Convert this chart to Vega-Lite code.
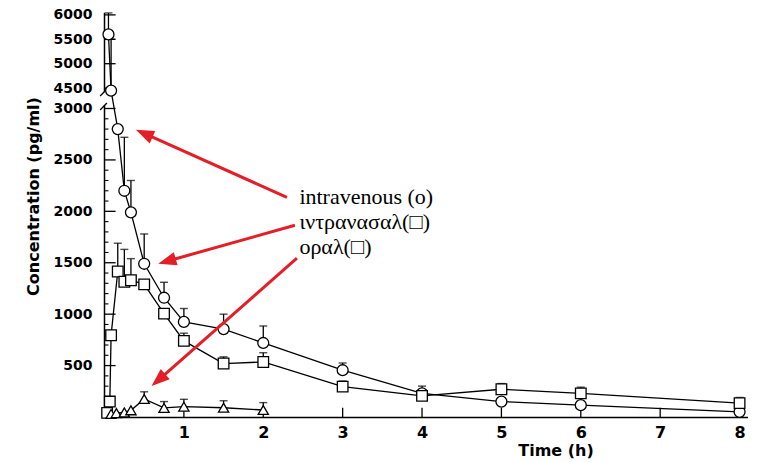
{
  "$schema": "https://vega.github.io/schema/vega-lite/v6.json",
  "width": 643,
  "height": 407,
  "autosize": {"type": "none"},
  "padding": {"left": 104.5, "top": 10, "right": 10.5, "bottom": 45},
  "background": "white",
  "config": {
    "view": {"stroke": null},
    "axis": {
      "grid": false,
      "zindex": 1,
      "ticks": false,
      "domainColor": "black",
      "domainWidth": 1.5,
      "labelColor": "black",
      "titleColor": "black",
      "labelFont": "DejaVu Sans",
      "titleFont": "DejaVu Sans",
      "labelFontWeight": "bold",
      "titleFontWeight": "bold",
      "labelOverlap": false,
      "labelFlush": false,
      "labelBound": false
    },
    "axisX": {"labelPadding": 7},
    "axisY": {"labelPadding": 12.5}
  },
  "datasets": {
    "pk": [
      {"route": "iv", "t": 0.05, "c": 5600, "hi": 6040},
      {"route": "iv", "t": 0.083, "c": 4450, "hi": 5500},
      {"route": "iv", "t": 0.167, "c": 2800},
      {"route": "iv", "t": 0.25, "c": 2200, "hi": 2720},
      {"route": "iv", "t": 0.333, "c": 1990, "hi": 2300},
      {"route": "iv", "t": 0.5, "c": 1490, "hi": 1780},
      {"route": "iv", "t": 0.75, "c": 1160, "hi": 1310},
      {"route": "iv", "t": 1, "c": 925, "hi": 1055},
      {"route": "iv", "t": 1.5, "c": 855, "hi": 1000},
      {"route": "iv", "t": 2, "c": 720, "hi": 885},
      {"route": "iv", "t": 3, "c": 455, "hi": 525},
      {"route": "iv", "t": 4, "c": 230, "hi": 300},
      {"route": "iv", "t": 5, "c": 150},
      {"route": "iv", "t": 6, "c": 115},
      {"route": "iv", "t": 8, "c": 50},
      {"route": "in", "t": 0.033, "c": 40},
      {"route": "in", "t": 0.067, "c": 150},
      {"route": "in", "t": 0.083, "c": 795},
      {"route": "in", "t": 0.167, "c": 1415, "hi": 1690},
      {"route": "in", "t": 0.25, "c": 1315, "hi": 1630},
      {"route": "in", "t": 0.333, "c": 1330, "hi": 1540},
      {"route": "in", "t": 0.5, "c": 1290},
      {"route": "in", "t": 0.75, "c": 1005},
      {"route": "in", "t": 1, "c": 740, "hi": 815},
      {"route": "in", "t": 1.5, "c": 520, "hi": 585},
      {"route": "in", "t": 2, "c": 535, "hi": 625},
      {"route": "in", "t": 3, "c": 295, "hi": 350},
      {"route": "in", "t": 4, "c": 205},
      {"route": "in", "t": 5, "c": 270, "hi": 325},
      {"route": "in", "t": 6, "c": 230, "hi": 290},
      {"route": "in", "t": 8, "c": 135, "hi": 190},
      {"route": "oral", "t": 0.083, "c": 30},
      {"route": "oral", "t": 0.15, "c": 38},
      {"route": "oral", "t": 0.25, "c": 45},
      {"route": "oral", "t": 0.333, "c": 65},
      {"route": "oral", "t": 0.5, "c": 175, "hi": 245},
      {"route": "oral", "t": 0.75, "c": 88, "hi": 150},
      {"route": "oral", "t": 1, "c": 100, "hi": 172},
      {"route": "oral", "t": 1.5, "c": 90, "hi": 158},
      {"route": "oral", "t": 2, "c": 68, "hi": 140}
    ],
    "axisline": [
      {"t": 0, "c": 0, "c2": 3316},
      {"t": 0, "c": 4420, "c2": 6039}
    ],
    "yticks": [
      {"c": 500}, {"c": 1000}, {"c": 1500}, {"c": 2000}, {"c": 2500}, {"c": 3000},
      {"c": 4500}, {"c": 5000}, {"c": 5500}, {"c": 6000}
    ],
    "minor": [
      {"c": 100}, {"c": 200}, {"c": 300}, {"c": 400}, {"c": 600}, {"c": 700}, {"c": 800}, {"c": 900},
      {"c": 1100}, {"c": 1200}, {"c": 1300}, {"c": 1400}, {"c": 1600}, {"c": 1700}, {"c": 1800}, {"c": 1900},
      {"c": 2100}, {"c": 2200}, {"c": 2300}, {"c": 2400}, {"c": 2600}, {"c": 2700}, {"c": 2800}, {"c": 2900}
    ],
    "xticks": [
      {"t": 1}, {"t": 2}, {"t": 3}, {"t": 4}, {"t": 5}, {"t": 6}, {"t": 7}, {"t": 8}
    ],
    "breaks": [
      {"t": -0.055, "c": 4129, "t2": 0.02, "c2": 4461},
      {"t": -0.055, "c": 2985, "t2": 0.03, "c2": 3497}
    ],
    "arrows": [
      {"id": 1, "t": 2.298, "c": 2136, "t2": 0.5, "c2": 2757},
      {"id": 2, "t": 2.399, "c": 1864, "t2": 0.787, "c2": 1515},
      {"id": 3, "t": 2.424, "c": 1544, "t2": 0.679, "c2": 359}
    ],
    "notes": [
      {"t": 2.455, "c": 2074, "text": "intravenous (o)"},
      {"t": 2.455, "c": 1825, "text": "ιντρανασαλ(□)"},
      {"t": 2.455, "c": 1583, "text": "οραλ(□)"}
    ]
  },
  "layer": [
    {
      "data": {"name": "pk"},
      "mark": {"type": "line", "color": "black", "strokeWidth": 1.3},
      "encoding": {
        "x": {
          "field": "t", "type": "quantitative",
          "scale": {"domain": [0, 8.1], "nice": false, "zero": false},
          "axis": {
            "values": [1, 2, 3, 4, 5, 6, 7, 8],
            "format": "d",
            "labelFontSize": 16,
            "title": "Time (h)",
            "titleFontSize": 16,
            "titleX": 451,
            "titleY": 25
          }
        },
        "y": {
          "field": "c", "type": "quantitative",
          "scale": {"domain": [0, 3000, 4400, 6100], "range": [407, 98.5, 83, 0], "nice": false, "zero": false},
          "axis": {
            "domain": false,
            "values": [500, 1000, 1500, 2000, 2500, 3000, 4500, 5000, 5500, 6000],
            "format": "d",
            "labelFontSize": 14,
            "title": "Concentration (pg/ml)",
            "titleFontSize": 16,
            "titleX": -63,
            "titleY": 186
          }
        },
        "detail": {"field": "route"}
      }
    },
    {
      "data": {"name": "axisline"},
      "mark": {"type": "rule", "color": "black", "strokeWidth": 1.5},
      "encoding": {
        "x": {"field": "t", "type": "quantitative"},
        "y": {"field": "c", "type": "quantitative"},
        "y2": {"field": "c2"}
      }
    },
    {
      "data": {"name": "yticks"},
      "mark": {"type": "rule", "color": "black", "strokeWidth": 1.3},
      "encoding": {
        "x": {"datum": 0, "type": "quantitative"},
        "x2": {"datum": 0.14},
        "y": {"field": "c", "type": "quantitative"}
      }
    },
    {
      "data": {"name": "minor"},
      "mark": {"type": "rule", "color": "black", "strokeWidth": 1.1},
      "encoding": {
        "x": {"datum": 0, "type": "quantitative"},
        "x2": {"datum": 0.05},
        "y": {"field": "c", "type": "quantitative"}
      }
    },
    {
      "data": {"name": "xticks"},
      "mark": {"type": "rule", "color": "black", "strokeWidth": 1.3},
      "encoding": {
        "x": {"field": "t", "type": "quantitative"},
        "y": {"datum": 0, "type": "quantitative"},
        "y2": {"datum": 90}
      }
    },
    {
      "data": {"name": "breaks"},
      "mark": {"type": "rule", "color": "black", "strokeWidth": 1.3},
      "encoding": {
        "x": {"field": "t", "type": "quantitative"},
        "y": {"field": "c", "type": "quantitative"},
        "x2": {"field": "t2"},
        "y2": {"field": "c2"}
      }
    },
    {
      "data": {"name": "pk"},
      "transform": [{"filter": "isValid(datum.hi)"}],
      "mark": {"type": "rule", "color": "black", "strokeWidth": 1.3},
      "encoding": {
        "x": {"field": "t", "type": "quantitative"},
        "y": {"field": "c", "type": "quantitative"},
        "y2": {"field": "hi"}
      }
    },
    {
      "data": {"name": "pk"},
      "transform": [{"filter": "isValid(datum.hi)"}],
      "mark": {"type": "tick", "color": "black", "orient": "horizontal", "size": 8, "thickness": 1.4},
      "encoding": {
        "x": {"field": "t", "type": "quantitative"},
        "y": {"field": "hi", "type": "quantitative"}
      }
    },
    {
      "data": {"name": "pk"},
      "mark": {"type": "point", "filled": true, "fill": "white", "stroke": "black", "strokeWidth": 1.3, "opacity": 1},
      "encoding": {
        "x": {"field": "t", "type": "quantitative"},
        "y": {"field": "c", "type": "quantitative"},
        "shape": {"field": "route", "type": "nominal", "scale": {"domain": ["iv", "in", "oral"], "range": ["circle", "square", "triangle-up"]}, "legend": null},
        "size": {"field": "route", "type": "nominal", "scale": {"domain": ["iv", "in", "oral"], "range": [120, 105, 120]}, "legend": null}
      }
    },
    {
      "data": {"name": "arrows"},
      "mark": {"type": "rule", "color": "#e41e26", "strokeWidth": 3},
      "encoding": {
        "x": {"field": "t", "type": "quantitative"},
        "y": {"field": "c", "type": "quantitative"},
        "x2": {"field": "t2"},
        "y2": {"field": "c2"}
      }
    },
    {
      "data": {"name": "arrows"},
      "transform": [{"filter": "datum.id === 1"}],
      "mark": {"type": "point", "shape": "M0,-1L-0.75,1L0.75,1Z", "filled": true, "color": "#e41e26", "opacity": 1, "size": 330, "angle": 294},
      "encoding": {
        "x": {"field": "t2", "type": "quantitative"},
        "y": {"field": "c2", "type": "quantitative"}
      }
    },
    {
      "data": {"name": "arrows"},
      "transform": [{"filter": "datum.id === 2"}],
      "mark": {"type": "point", "shape": "M0,-1L-0.75,1L0.75,1Z", "filled": true, "color": "#e41e26", "opacity": 1, "size": 330, "angle": 254},
      "encoding": {
        "x": {"field": "t2", "type": "quantitative"},
        "y": {"field": "c2", "type": "quantitative"}
      }
    },
    {
      "data": {"name": "arrows"},
      "transform": [{"filter": "datum.id === 3"}],
      "mark": {"type": "point", "shape": "M0,-1L-0.75,1L0.75,1Z", "filled": true, "color": "#e41e26", "opacity": 1, "size": 330, "angle": 229},
      "encoding": {
        "x": {"field": "t2", "type": "quantitative"},
        "y": {"field": "c2", "type": "quantitative"}
      }
    },
    {
      "data": {"name": "notes"},
      "mark": {"type": "text", "align": "left", "baseline": "alphabetic", "font": "Liberation Serif", "fontSize": 22, "color": "black"},
      "encoding": {
        "x": {"field": "t", "type": "quantitative"},
        "y": {"field": "c", "type": "quantitative"},
        "text": {"field": "text"}
      }
    }
  ]
}
